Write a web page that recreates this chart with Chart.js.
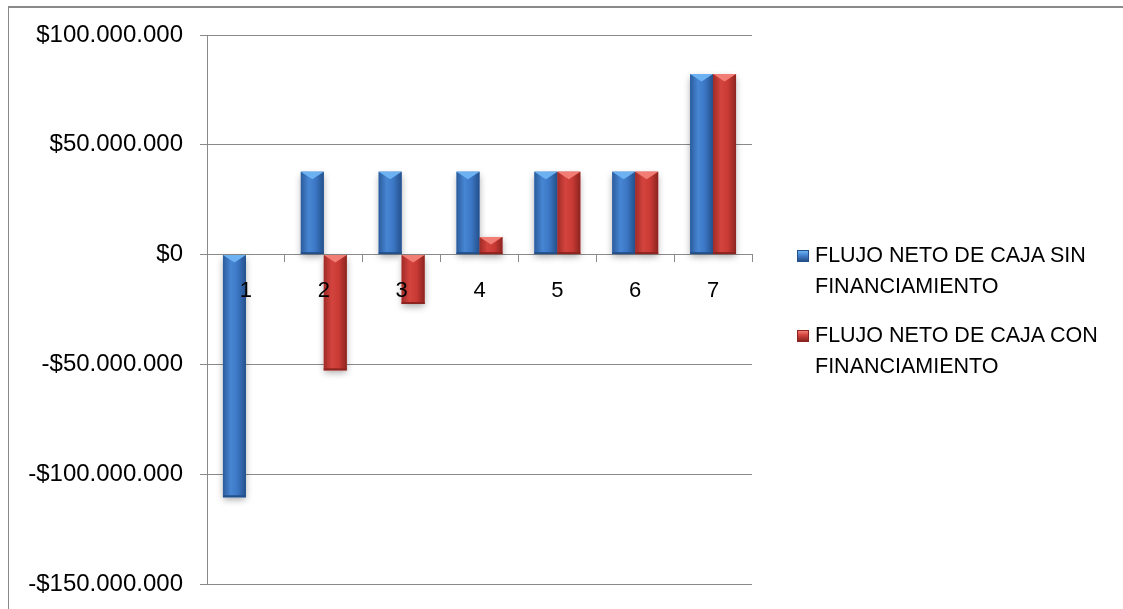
<!DOCTYPE html>
<html>
<head>
<meta charset="utf-8">
<script src="https://cdn.jsdelivr.net/npm/chart.js@4/dist/chart.umd.min.js"></script>
<style>
  body { margin: 0; background: #fff; font-family: "Liberation Sans", Arial, sans-serif; }
  #wrap { position: relative; width: 1123px; height: 609px; overflow: hidden; }
  #frame { position: absolute; left: 8px; top: 6px; width: 2000px; height: 2000px;
           border-top: 2px solid #8a8a8a; border-left: 1px solid #8a8a8a; }
  #myChart { position: absolute; left: 0; top: 0; }
  #legend { position: absolute; left: 797px; top: 240px; font-size: 21.5px; color: #000; }
  .item { position: relative; padding-left: 18px; line-height: 31px; margin-bottom: 18px; }
  .box { position: absolute; left: 0; top: 10px; width: 10px; height: 10px; }
</style>
</head>
<body>
<div id="wrap">
  <div id="frame"></div>
  <canvas id="myChart" width="1123" height="609"></canvas>
  <div id="legend"></div>
</div>
<script>
// /////////////// chart data
const categories = ['1', '2', '3', '4', '5', '6', '7'];
const seriesNames = ['FLUJO NETO DE CAJA SIN FINANCIAMIENTO', 'FLUJO NETO DE CAJA CON FINANCIAMIENTO'];
const sinFinanciamiento = [-110500000, 37700000, 37700000, 37700000, 37700000, 37700000, 82200000];
const conFinanciamiento = [0, -52700000, -22500000, 8000000, 37700000, 37700000, 82200000];
const yTicks = [-150000000, -100000000, -50000000, 0, 50000000, 100000000];

// /////////////// bar look (excel bevel style)
const looks = [
    { base: '#3b76c3', edge: '#2b5c9c', mid: '#4786d3', cap: '#6cb2f2', dark: '#24508a' },
    { base: '#c93a35', edge: '#a02b27', mid: '#d4443e', cap: '#f27d75', dark: '#8c2420' }
];

const money = function(v){
    let s = Math.abs(v).toString().replace(/\B(?=(\d{3})+(?!\d))/g, '.');
    return (v < 0 ? '-$' : '$') + s;
}

const barBox = function(bar){
    let p = bar.getProps(['x', 'y', 'base', 'width'], true);
    return {
        left: p.x - p.width / 2, right: p.x + p.width / 2, cx: p.x, w: p.width,
        top: Math.min(p.y, p.base), bottom: Math.max(p.y, p.base)
    };
}

// /////////////// shadow under + bevel over each bar
const bevelPlugin = {
    id: 'bevel',
    beforeDatasetsDraw(chart){
        const ctx = chart.ctx;
        ctx.save();
        chart.data.datasets.forEach((ds, i) => {
            chart.getDatasetMeta(i).data.forEach(bar => {
                let b = barBox(bar);
                if (b.bottom - b.top < 1) return;
                ctx.shadowColor = 'rgba(0,0,0,0.35)';
                ctx.shadowBlur = 7;
                ctx.shadowOffsetY = 3;
                ctx.fillStyle = '#ffffff';
                ctx.fillRect(b.left, b.top, b.w, b.bottom - b.top);
            });
        });
        ctx.restore();
    },
    afterDatasetsDraw(chart){
        const ctx = chart.ctx;
        ctx.save();
        chart.data.datasets.forEach((ds, i) => {
            let c = looks[i];
            chart.getDatasetMeta(i).data.forEach(bar => {
                let b = barBox(bar);
                if (b.bottom - b.top < 1) return;
                let g = ctx.createLinearGradient(b.left, 0, b.right, 0);
                g.addColorStop(0, c.edge);
                g.addColorStop(0.35, c.mid);
                g.addColorStop(0.65, c.base);
                g.addColorStop(1, c.dark);
                ctx.fillStyle = g;
                ctx.fillRect(b.left, b.top, b.w, b.bottom - b.top);
                // top cap
                let depth = Math.min(b.w * 0.32, (b.bottom - b.top) * 0.6);
                ctx.fillStyle = c.cap;
                ctx.beginPath();
                ctx.moveTo(b.left, b.top);
                ctx.lineTo(b.right, b.top);
                ctx.lineTo(b.cx, b.top + depth);
                ctx.closePath();
                ctx.fill();
                // dark foot
                ctx.fillStyle = c.dark;
                ctx.fillRect(b.left, b.bottom - 2, b.w, 2);
            });
        });
        ctx.restore();
    }
};

// /////////////// create the bar graph
const ctx = document.getElementById('myChart').getContext('2d');
const myChart = new Chart(ctx, {
    type: 'bar',
    data: {
        labels: categories,
        datasets: [{
            label: seriesNames[0],
            data: sinFinanciamiento,
            backgroundColor: looks[0].base,
            borderWidth: 0
        }, {
            label: seriesNames[1],
            data: conFinanciamiento,
            backgroundColor: looks[1].base,
            borderWidth: 0
        }]
    },
    options: {
        responsive: false,
        animation: false,
        datasets: { bar: { categoryPercentage: 0.59, barPercentage: 1 } },
        layout: { padding: { left: 0, right: 371, top: 35, bottom: 25 } },
        plugins: { legend: { display: false }, tooltip: { enabled: false } },
        scales: {
            x: {
                position: { y: 0 },
                grid: { drawOnChartArea: false, drawTicks: true, tickLength: 7, color: '#8a8a8a', offset: true },
                border: { color: '#8a8a8a', width: 1 },
                ticks: { z: 1, color: '#000', padding: 16, font: { family: 'Liberation Sans', size: 22 } }
            },
            y: {
                min: yTicks[0],
                max: yTicks[yTicks.length - 1],
                afterFit: function(scale){
                    scale.width = 207;
                    scale.paddingTop = 0;
                    scale.paddingBottom = 0;
                },
                afterBuildTicks: function(scale){ scale.ticks = yTicks.map(v => ({ value: v })); },
                grid: { color: '#8a8a8a', tickLength: 7 },
                border: { color: '#8a8a8a', width: 1 },
                ticks: {
                    color: '#000', padding: 17,
                    font: { family: 'Liberation Sans', size: 24 },
                    callback: function(v){ return money(v); }
                }
            }
        }
    },
    plugins: [bevelPlugin]
});

// /////////////// html legend with wrapped labels
let legend = document.getElementById('legend');
let words = [['FLUJO NETO DE CAJA SIN', 'FINANCIAMIENTO'], ['FLUJO NETO DE CAJA CON', 'FINANCIAMIENTO']];
for (let i = 0; i < seriesNames.length; i++) {
    let c = looks[i];
    let item = document.createElement('div');
    item.className = 'item';
    item.innerHTML = '<span class="box" style="background:linear-gradient(180deg,' + c.cap + ' 0%,' + c.mid + ' 40%,' + c.dark + ' 100%);border:1px solid ' + c.dark + '"></span>' + words[i].join('<br>');
    legend.appendChild(item);
}
</script>
</body>
</html>
